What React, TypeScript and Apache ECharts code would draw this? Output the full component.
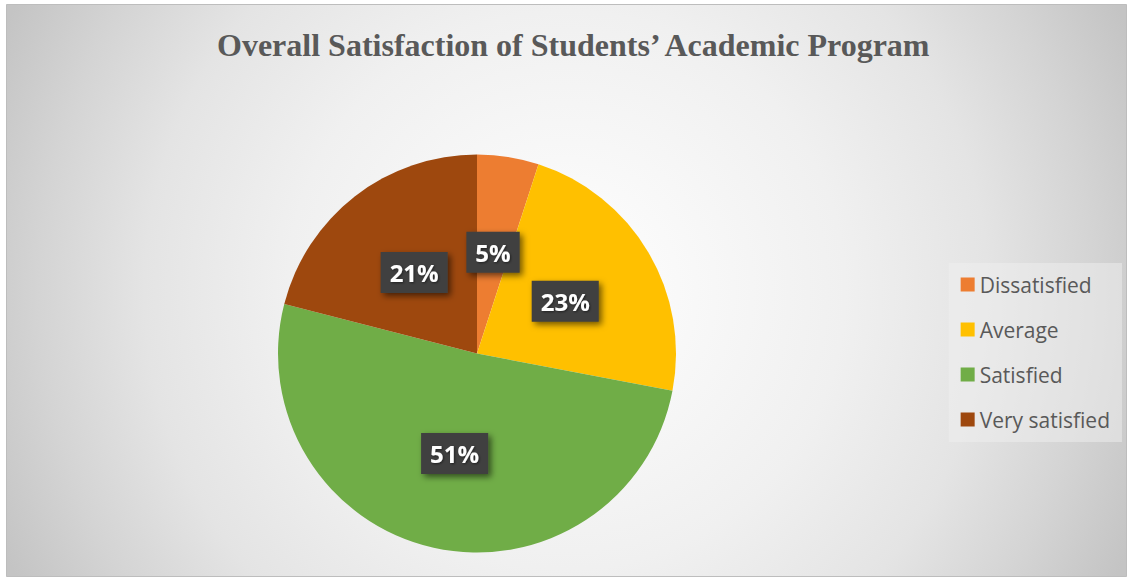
import React, { useEffect, useRef } from "react";
import * as echarts from "echarts";

const titleText = "Overall Satisfaction of Students’ Academic Program";
const categories = ["Dissatisfied", "Average", "Satisfied", "Very satisfied"];
const values = [5, 23, 51, 21];
const colors = ["#ED7D31", "#FFC000", "#70AD47", "#9E480E"];

export default function App() {
  const ref = useRef<HTMLDivElement>(null);
  useEffect(() => {
    if (!ref.current) return;
    const chart = echarts.init(ref.current, null, { renderer: "svg" });
    const option = {
      animation: false,
      graphic: [
        {
          type: "rect",
          z: -10,
          silent: true,
          shape: { x: 6.5, y: 4.5, width: 1120, height: 572 },
          style: {
            fill: new echarts.graphic.RadialGradient(
              566,
              290,
              620,
              [
                { offset: 0, color: "#ffffff" },
                { offset: 0.45, color: "#f0f0f0" },
                { offset: 0.68, color: "#e4e4e4" },
                { offset: 0.85, color: "#d4d4d4" },
                { offset: 1, color: "#c4c4c4" },
              ],
              true
            ),
            stroke: "#bdbdbd",
            lineWidth: 1,
          },
        },
      ],
      title: {
        text: titleText,
        left: 212,
        top: 24,
        textStyle: {
          fontFamily: "Liberation Serif",
          fontWeight: "bold",
          fontSize: 32,
          color: "#595959",
        },
      },
      legend: {
        orient: "vertical",
        right: 8,
        top: 263,
        icon: "rect",
        itemWidth: 14,
        itemHeight: 14,
        itemGap: 24,
        padding: [11, 12, 12, 12],
        backgroundColor: "rgba(240,240,240,0.5)",
        textStyle: {
          fontFamily: "Open Sans",
          fontSize: 21,
          color: "#595959",
        },
        data: categories,
      },
      series: [
        {
          type: "pie",
          center: [477, 353.5],
          radius: 199,
          startAngle: 90,
          clockwise: true,
          avoidLabelOverlap: false,
          data: categories.map((name, i) => ({
            name,
            value: values[i],
            itemStyle: { color: colors[i] },
          })),
          itemStyle: { borderWidth: 0 },
          label: {
            show: true,
            position: "inside",
            formatter: (p: any) => `${p.value}%`,
            fontFamily: "Open Sans",
            fontWeight: "bold",
            fontSize: 24,
            color: "#ffffff",
            backgroundColor: "#3f3f3f",
            padding: [9, 9, 8, 9],
            shadowColor: "rgba(0,0,0,0.55)",
            shadowBlur: 6,
            shadowOffsetX: 3,
            shadowOffsetY: 3,
            textShadowColor: "rgba(0,0,0,0.5)",
            textShadowBlur: 2,
            textShadowOffsetX: 1,
            textShadowOffsetY: 1,
          },
          labelLine: { show: false },
        },
      ],
    };
    chart.setOption(option as any);
    return () => chart.dispose();
  }, []);
  return (
    <div
      ref={ref}
      style={{ position: "fixed", left: 0, top: 0, width: 1130, height: 579, background: "#ffffff" }}
    />
  );
}
